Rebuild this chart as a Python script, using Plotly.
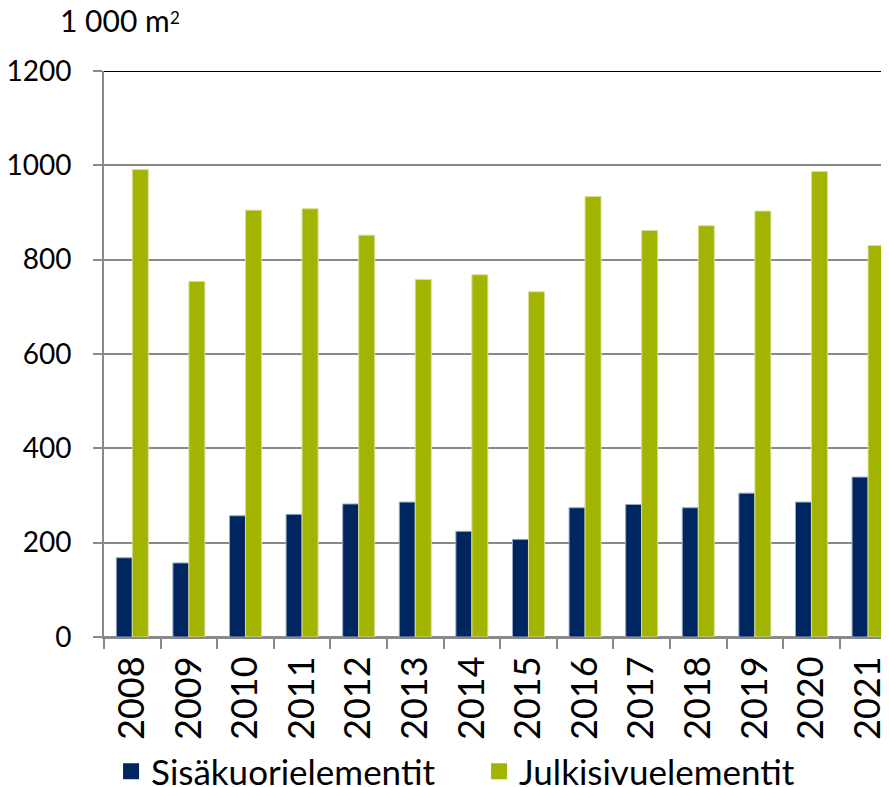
import plotly.graph_objects as go

years = ["2008", "2009", "2010", "2011", "2012", "2013", "2014",
         "2015", "2016", "2017", "2018", "2019", "2020", "2021"]
sisakuori = [168, 157, 257, 260, 282, 286, 224, 207, 274, 281, 274, 305, 286, 339]
julkisivu = [991, 754, 905, 908, 852, 758, 768, 732, 934, 862, 872, 903, 987, 830]
series_names = ["Sisäkuorielementit", "Julkisivuelementit"]
y_ticks = [0, 200, 400, 600, 800, 1000, 1200]

NAVY = "#002662"
GREEN = "#A2B400"
GRID = "#898989"
FONT = "Lato"

fig = go.Figure()
fig.add_trace(go.Bar(x=years, y=sisakuori, name=series_names[0],
                     marker=dict(color=NAVY, line=dict(color="#9aa6bf", width=1)),
                     showlegend=False))
fig.add_trace(go.Bar(x=years, y=julkisivu, name=series_names[1],
                     marker=dict(color=GREEN, line=dict(color="#d6df9a", width=1)),
                     showlegend=False))
# legend entries with larger square symbols
for nm, col in zip(series_names, [NAVY, GREEN]):
    fig.add_trace(go.Scatter(x=[None], y=[None], mode="markers", name=nm,
                             marker=dict(symbol="square", size=20, color=col)))

fig.add_shape(type="line", xref="paper", yref="y", x0=0, x1=1, y0=1200, y1=1200,
              line=dict(color="#000000", width=2), layer="above")

# unit label "1 000 m²"
fig.add_annotation(text="1 000 m", xref="paper", yref="paper",
                   x=-0.058, y=1.0, xanchor="left", yanchor="bottom", yshift=31,
                   showarrow=False, font=dict(family=FONT, size=30, color="black"))
fig.add_annotation(text="2", xref="paper", yref="paper",
                   x=0.0815, y=1.0, xanchor="left", yanchor="bottom", yshift=41,
                   showarrow=False, font=dict(family=FONT, size=17, color="black"))

# page body has an 8px margin, so the figure is shifted by 8px; margins compensate
fig.update_layout(
    width=889, height=787,
    margin=dict(l=96, r=8, t=63, b=158, pad=0, autoexpand=False),
    paper_bgcolor="white", plot_bgcolor="white",
    barmode="group", bargap=0.435, bargroupgap=0,
    font=dict(family=FONT, size=28, color="black"),
    legend=dict(orientation="h", x=0.009, xanchor="left", y=-0.1855, yanchor="top",
                font=dict(family=FONT, size=35), itemwidth=30, tracegroupgap=0,
                entrywidth=323),
    showlegend=True,
)
fig.update_xaxes(type="category", range=[-0.5, 13.37], tickangle=-90,
                 showline=True, linecolor=GRID, linewidth=2,
                 ticks="outside", ticklen=10, tickwidth=2, tickcolor=GRID,
                 tickson="boundaries", ticklabelstandoff=3, automargin=False,
                 tickfont=dict(family=FONT, size=36), showgrid=False)
fig.update_yaxes(range=[0, 1200], tickvals=y_ticks, automargin=False,
                 showline=True, linecolor=GRID, linewidth=2,
                 ticks="outside", ticklen=9, tickwidth=2, tickcolor=GRID,
                 showgrid=True, gridcolor=GRID, gridwidth=2,
                 zeroline=True, zerolinecolor=GRID, zerolinewidth=2,
                 ticklabelstandoff=16, tickfont=dict(family=FONT, size=28))

fig.write_html("out.html")
